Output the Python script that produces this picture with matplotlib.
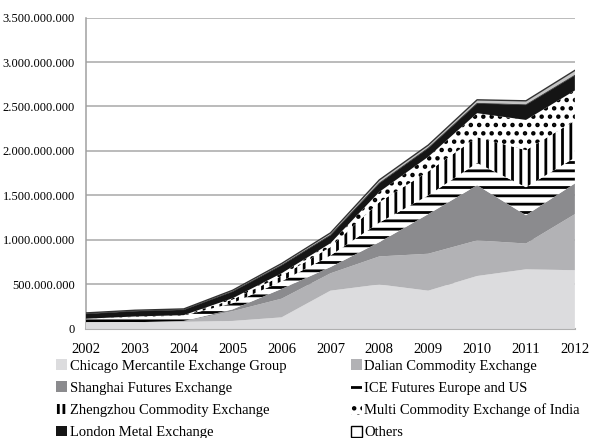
import matplotlib
matplotlib.use("Agg")
import matplotlib.pyplot as plt
from matplotlib.patches import Patch
from matplotlib.ticker import FuncFormatter
import numpy as np

plt.rcParams['font.family'] = 'Liberation Serif'
plt.rcParams['hatch.linewidth'] = 2.0
plt.rcParams['hatch.color'] = 'black'

years = [2002, 2003, 2004, 2005, 2006, 2007, 2008, 2009, 2010, 2011, 2012]

# contracts traded, millions
cme = [70, 75, 80, 90, 130, 430, 500, 430, 595, 670, 660]
dalian = [0, 0, 5, 110, 210, 195, 315, 415, 400, 290, 630]
shanghai = [0, 0, 5, 20, 110, 70, 160, 445, 620, 318, 345]
ice = [45, 60, 60, 70, 85, 130, 220, 210, 250, 315, 290]
zhengzhou = [0, 5, 5, 40, 60, 95, 230, 270, 290, 416, 417]
mcx = [0, 0, 0, 15, 30, 43, 115, 164, 270, 340, 338]
lme = [55, 60, 60, 75, 90, 90, 98, 98, 110, 170, 170]
others = [10, 10, 10, 15, 20, 26, 37, 34, 40, 45, 56]

labels = ["Chicago Mercantile Exchange Group", "Dalian Commodity Exchange",
          "Shanghai Futures Exchange", "ICE Futures Europe and US",
          "Zhengzhou Commodity Exchange", "Multi Commodity Exchange of India",
          "London Metal Exchange", "Others"]
series = [cme, dalian, shanghai, ice, zhengzhou, mcx, lme, others]
faces = ["#dcdcde", "#b2b2b5", "#8b8b8e", "white", "white", "white", "#151515", "#c4c4c4"]
hatches = [None, None, None, "--", "||", "..", None, None]

fig = plt.figure(figsize=(5.89, 4.38), dpi=100)
ax = fig.add_axes([0.146, 0.249, 0.83, 0.711])

data = [np.array(s) * 1e6 for s in series]
polys = ax.stackplot(years, *data, colors=faces, zorder=3)
for p, h, fc in zip(polys, hatches, faces):
    p.set_linewidth(0)
    if h:
        p.set_hatch(h)
        p.set_edgecolor("black")
# outline of the top band
top = np.sum(data, axis=0)
ax.plot(years, top, color="#333333", lw=1.0, zorder=4)
ax.plot(years, top - np.array(others) * 1e6, color="#333333", lw=0.6, zorder=4)

ax.set_xlim(2002, 2012)
ax.set_ylim(0, 3.5e9)
ax.set_xticks(years)
ax.set_yticks(np.arange(0, 3.5e9 + 1, 5e8))
ax.yaxis.set_major_formatter(FuncFormatter(lambda v, pos: "{:,.0f}".format(v).replace(",", ".")))
ax.tick_params(axis="y", length=0, pad=8, labelsize=9)
ax.tick_params(axis="x", length=0, pad=10, labelsize=10.5)
ax.grid(axis="y", color="#a8a8a8", lw=1.1, zorder=0)
for s in ["top", "right"]:
    ax.spines[s].set_visible(False)
ax.spines["left"].set_color("#a0a0a0")
ax.spines["bottom"].set_color("#b0b0b0")
ax.spines["left"].set_linewidth(1.1)
ax.spines["bottom"].set_linewidth(1.5)

handles = [Patch(facecolor=fc, hatch=h, edgecolor="black" if h else fc, linewidth=0)
           for fc, h in zip(faces, hatches)]
handles[4] = Patch(facecolor="white", hatch="|||", edgecolor="black", linewidth=0)
handles[-1] = Patch(facecolor="white", edgecolor="black", linewidth=1.0)
order = [0, 2, 4, 6, 1, 3, 5, 7]
fig.legend([handles[i] for i in order], [labels[i] for i in order],
           loc="upper left", bbox_to_anchor=(0.095, 0.18), ncol=2, frameon=False,
           fontsize=10.5, handlelength=0.75, handleheight=0.75, handletextpad=0.2,
           columnspacing=4.4, labelspacing=0.6, borderpad=0, borderaxespad=0)

fig.savefig("out.png", dpi=100)
